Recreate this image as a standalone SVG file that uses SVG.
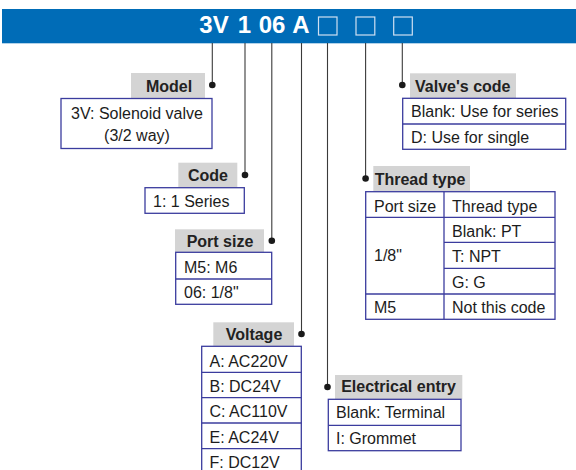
<svg xmlns="http://www.w3.org/2000/svg" width="576" height="470" viewBox="0 0 576 470">
<style>
.lbl{fill:#d4d4d4}
.box{fill:#fff;stroke:#3b3c9e;stroke-width:1.3}
.div{stroke:#3b3c9e;stroke-width:1.3}
.t{font-family:"Liberation Sans",Arial,sans-serif;font-size:16px;fill:#1c1c1c}
.b{font-family:"Liberation Sans",Arial,sans-serif;font-size:16px;font-weight:bold;fill:#222}
.h{font-family:"Liberation Sans",Arial,sans-serif;font-size:24px;font-weight:bold;fill:#fff;text-anchor:middle}
.hb{fill:none;stroke:#cfe0f2;stroke-width:1.2}
.ln{stroke:#3a3a3a;stroke-width:1.1;fill:none}
.dot{fill:#1a1a1a}
</style>
<rect width="576" height="470" fill="#fff"/>
<g id="header">
<rect x="2" y="9" width="574" height="34.3" fill="#006cb7"/>
<text class="h" x="214" y="33.3">3V</text>
<text class="h" x="244.5" y="33.3">1</text>
<text class="h" x="272" y="33.3">06</text>
<text class="h" x="300.8" y="33.3">A</text>
<rect class="hb" x="318.5" y="17" width="18.5" height="18"/>
<rect class="hb" x="356" y="17" width="18.8" height="18"/>
<rect class="hb" x="393.7" y="17" width="18.6" height="18"/>
</g>
<g id="connectors">
<line class="ln" x1="212.3" y1="43" x2="212.3" y2="85"/>
<line class="ln" x1="245" y1="43" x2="245" y2="175"/>
<line class="ln" x1="271.8" y1="43" x2="271.8" y2="240.7"/>
<line class="ln" x1="301.5" y1="43" x2="301.5" y2="334"/>
<line class="ln" x1="327.5" y1="43" x2="327.5" y2="387"/>
<line class="ln" x1="365.6" y1="43" x2="365.6" y2="178.5"/>
<line class="ln" x1="402.3" y1="43" x2="402.3" y2="85"/>
<circle class="dot" cx="212.3" cy="85" r="3.3"/>
<circle class="dot" cx="245" cy="175" r="3.3"/>
<circle class="dot" cx="271.8" cy="240.7" r="3.3"/>
<circle class="dot" cx="301.5" cy="334" r="3.3"/>
<circle class="dot" cx="327.5" cy="387" r="3.3"/>
<circle class="dot" cx="365.6" cy="178.5" r="3.3"/>
<circle class="dot" cx="402.3" cy="85" r="3.3"/>
</g>
<g id="model">
<rect class="lbl" x="131" y="73" width="74" height="25"/>
<text class="b" x="169" y="91.7" text-anchor="middle">Model</text>
<rect class="box" x="61" y="98.5" width="151" height="50"/>
<text class="t" x="137" y="119.3" text-anchor="middle">3V: Solenoid valve</text>
<text class="t" x="137" y="141" text-anchor="middle">(3/2 way)</text>
</g>
<g id="code">
<rect class="lbl" x="178.3" y="162.7" width="59" height="24.5"/>
<text class="b" x="208" y="181" text-anchor="middle">Code</text>
<rect class="box" x="145" y="187.7" width="99.3" height="25.6"/>
<text class="t" x="153" y="206.7">1: 1 Series</text>
</g>
<g id="port-size">
<rect class="lbl" x="175" y="229.3" width="89" height="23"/>
<text class="b" x="220" y="247.3" text-anchor="middle">Port size</text>
<rect class="box" x="175.7" y="252.3" width="96" height="52"/>
<line class="div" x1="175.7" y1="279" x2="271.7" y2="279"/>
<text class="t" x="184" y="272.7">M5: M6</text>
<text class="t" x="184" y="298">06: 1/8"</text>
</g>
<g id="voltage">
<rect class="lbl" x="213.3" y="322.3" width="80.7" height="23.6"/>
<text class="b" x="254" y="339.5" text-anchor="middle">Voltage</text>
<rect class="box" x="201.7" y="346.3" width="99.6" height="130"/>
<line class="div" x1="201.7" y1="372.3" x2="301.3" y2="372.3"/>
<line class="div" x1="201.7" y1="397.7" x2="301.3" y2="397.7"/>
<line class="div" x1="201.7" y1="423" x2="301.3" y2="423"/>
<line class="div" x1="201.7" y1="448.7" x2="301.3" y2="448.7"/>
<text class="t" x="209.5" y="366.7">A: AC220V</text>
<text class="t" x="209.5" y="392">B: DC24V</text>
<text class="t" x="209.5" y="417.3">C: AC110V</text>
<text class="t" x="209.5" y="442.7">E: AC24V</text>
<text class="t" x="209.5" y="468">F: DC12V</text>
</g>
<g id="electrical-entry">
<rect class="lbl" x="335" y="375" width="127.3" height="24.3"/>
<text class="b" x="398.5" y="392.3" text-anchor="middle">Electrical entry</text>
<rect class="box" x="328.3" y="399.3" width="132.7" height="51.4"/>
<line class="div" x1="328.3" y1="425.3" x2="461" y2="425.3"/>
<text class="t" x="336" y="418.3">Blank: Terminal</text>
<text class="t" x="336" y="444">I: Grommet</text>
</g>
<g id="valves-code">
<rect class="lbl" x="410" y="73.3" width="106" height="24.7"/>
<text class="b" x="462.8" y="91.7" text-anchor="middle">Valve's code</text>
<rect class="box" x="402.7" y="98.3" width="163" height="51"/>
<line class="div" x1="402.7" y1="124" x2="565.7" y2="124"/>
<text class="t" x="411" y="117.3">Blank: Use for series</text>
<text class="t" x="411" y="142.7">D: Use for single</text>
</g>
<g id="thread-type">
<rect class="lbl" x="373.3" y="166" width="96.7" height="25"/>
<text class="b" x="420" y="185" text-anchor="middle">Thread type</text>
<rect class="box" x="365.7" y="191.7" width="189.3" height="127.6"/>
<line class="div" x1="444" y1="191.7" x2="444" y2="319.3"/>
<line class="div" x1="365.7" y1="217.3" x2="555" y2="217.3"/>
<line class="div" x1="444" y1="242.3" x2="555" y2="242.3"/>
<line class="div" x1="444" y1="268.3" x2="555" y2="268.3"/>
<line class="div" x1="365.7" y1="294" x2="555" y2="294"/>
<text class="t" x="374" y="211.7">Port size</text>
<text class="t" x="452" y="211.7">Thread type</text>
<text class="t" x="452" y="236.5">Blank: PT</text>
<text class="t" x="374" y="261">1/8"</text>
<text class="t" x="452" y="262">T: NPT</text>
<text class="t" x="452" y="288">G: G</text>
<text class="t" x="374" y="313">M5</text>
<text class="t" x="452" y="313">Not this code</text>
</g>
</svg>
